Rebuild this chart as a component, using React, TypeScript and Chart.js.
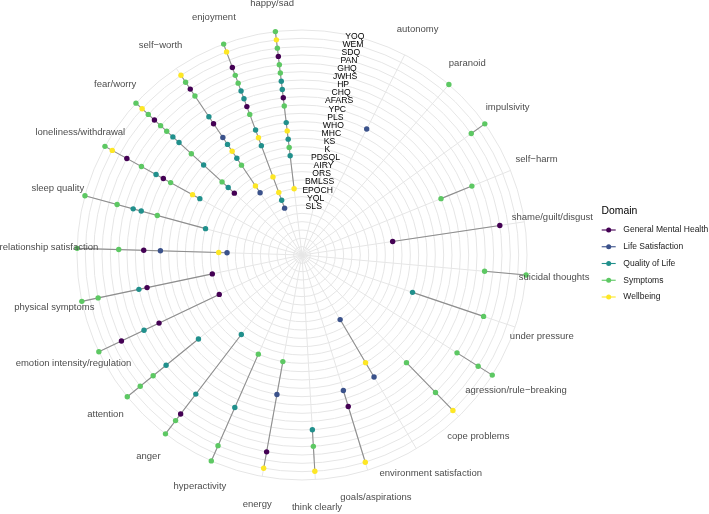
import React, { useEffect, useRef } from 'react';
import { Chart, registerables } from 'chart.js';

Chart.register(...registerables);

// Spokes (clockwise, starting after the questionnaire label column)
const spokes = [
  'autonomy', 'paranoid', 'impulsivity', 'self−harm', 'shame/guilt/disgust',
  'suicidal thoughts', 'under pressure', 'agression/rule−breaking', 'cope problems',
  'environment satisfaction', 'goals/aspirations', 'think clearly', 'energy',
  'hyperactivity', 'anger', 'attention', 'emotion intensity/regulation',
  'physical symptoms', 'relationship satisfaction', 'sleep quality',
  'loneliness/withdrawal', 'fear/worry', 'self−worth', 'enjoyment', 'happy/sad',
];

// Questionnaires, inner ring to outer ring
const questionnaires = [
  'SLS', 'YQL', 'EPOCH', 'BMLSS', 'ORS', 'AIRY', 'PDSQL', 'K', 'KS', 'MHC', 'WHO',
  'PLS', 'YPC', 'AFARS', 'CHQ', 'HP', 'JWHS', 'GHQ', 'PAN', 'SDQ', 'WEM', 'YOQ',
];

const questionnaireDomain = [
  'Life Satisfaction', 'Quality of Life', 'Wellbeing', 'Life Satisfaction', 'Wellbeing',
  'General Mental Health', 'Quality of Life', 'Symptoms', 'Quality of Life', 'Wellbeing',
  'Quality of Life', 'Life Satisfaction', 'Symptoms', 'General Mental Health',
  'Quality of Life', 'Quality of Life', 'Symptoms', 'Symptoms', 'General Mental Health',
  'Symptoms', 'Wellbeing', 'Symptoms',
];

const domains = ['General Mental Health', 'Life Satisfaction', 'Quality of Life', 'Symptoms', 'Wellbeing'];
const domainColors = ['#440154', '#3B528B', '#21908C', '#5DC863', '#FDE725'];

// Which questionnaires cover each spoke (aligned with `spokes`)
const spokeItems: string[][] = [
  ['PLS'],
  ['YOQ'],
  ['YOQ', 'SDQ'],
  ['JWHS', 'YPC'],
  ['PAN', 'AIRY'],
  ['YOQ', 'JWHS'],
  ['GHQ', 'KS'],
  ['YOQ', 'SDQ', 'JWHS'],
  ['WEM', 'GHQ', 'YPC'],
  ['PLS', 'MHC', 'BMLSS'],
  ['WEM', 'AFARS', 'PLS'],
  ['WEM', 'GHQ', 'HP'],
  ['WEM', 'PAN', 'PLS', 'K'],
  ['YOQ', 'SDQ', 'CHQ', 'K'],
  ['YOQ', 'SDQ', 'PAN', 'HP', 'PDSQL'],
  ['YOQ', 'SDQ', 'GHQ', 'HP', 'WHO'],
  ['YOQ', 'PAN', 'HP', 'AFARS', 'AIRY'],
  ['YOQ', 'SDQ', 'CHQ', 'AFARS', 'AIRY'],
  ['YOQ', 'JWHS', 'AFARS', 'PLS', 'ORS', 'BMLSS'],
  ['YOQ', 'GHQ', 'HP', 'CHQ', 'YPC', 'PDSQL'],
  ['YOQ', 'WEM', 'PAN', 'JWHS', 'CHQ', 'AFARS', 'YPC', 'MHC', 'KS'],
  ['YOQ', 'WEM', 'SDQ', 'PAN', 'GHQ', 'JWHS', 'HP', 'CHQ', 'YPC', 'WHO', 'K', 'PDSQL', 'AIRY'],
  ['WEM', 'SDQ', 'PAN', 'GHQ', 'CHQ', 'AFARS', 'PLS', 'WHO', 'MHC', 'KS', 'K', 'ORS', 'BMLSS'],
  ['YOQ', 'WEM', 'PAN', 'GHQ', 'JWHS', 'HP', 'CHQ', 'AFARS', 'YPC', 'WHO', 'MHC', 'KS', 'ORS', 'EPOCH', 'YQL', 'SLS'],
  ['YOQ', 'WEM', 'SDQ', 'PAN', 'GHQ', 'JWHS', 'HP', 'CHQ', 'AFARS', 'YPC', 'WHO', 'MHC', 'KS', 'K', 'PDSQL', 'EPOCH'],
];

// Layout constants
const INNER_EMPTY = 5; // empty rings inside the first questionnaire
const SLOTS = 2 * (spokes.length + 1) + 1; // half-step angular slots
const LABEL_SLOT = 2;
const spokeSlot = (k: number) => 2 * k + 4;
const ringOf = (q: string) => questionnaires.indexOf(q) + 1 + INNER_EMPTY;
const FONT = '"Liberation Sans", Arial, Helvetica, sans-serif';

const slotLabels = Array.from({ length: SLOTS }, (_, i) =>
  i >= 4 && i % 2 === 0 ? spokes[(i - 4) / 2] : ''
);

const overlayPlugin = {
  id: 'overlay',
  beforeDatasetsDraw(chart: any) {
    const r = chart.scales.r;
    const ctx = chart.ctx;
    ctx.save();
    ctx.strokeStyle = '#8e8e8e';
    ctx.lineWidth = 1.1;
    spokeItems.forEach((items, k) => {
      if (items.length < 2) return;
      const rings = items.map(ringOf);
      const a = r.getPointPositionForValue(spokeSlot(k), Math.min(...rings));
      const b = r.getPointPositionForValue(spokeSlot(k), Math.max(...rings));
      ctx.beginPath();
      ctx.moveTo(a.x, a.y);
      ctx.lineTo(b.x, b.y);
      ctx.stroke();
    });
    ctx.restore();
  },
  afterDatasetsDraw(chart: any) {
    const r = chart.scales.r;
    const ctx = chart.ctx;
    ctx.save();
    ctx.textAlign = 'center';
    ctx.textBaseline = 'middle';
    // questionnaire labels
    ctx.fillStyle = '#000000';
    ctx.font = `8.6px ${FONT}`;
    questionnaires.forEach((q) => {
      const p = r.getPointPositionForValue(LABEL_SLOT, ringOf(q));
      ctx.fillText(q, p.x, p.y);
    });
    // spoke labels
    ctx.fillStyle = '#4D4D4D';
    ctx.font = `9.5px ${FONT}`;
    spokes.forEach((s, k) => {
      const p = r.getPointPosition(spokeSlot(k), r.drawingArea * 1.125);
      ctx.fillText(s, p.x, p.y);
    });
    // legend
    ctx.textAlign = 'left';
    ctx.fillStyle = '#000000';
    ctx.font = `10.4px ${FONT}`;
    ctx.fillText('Domain', 601.5, 211.5);
    ctx.font = `8.5px ${FONT}`;
    domains.forEach((d, i) => {
      const y = 230 + i * 16.75;
      ctx.strokeStyle = domainColors[i];
      ctx.lineWidth = 1.1;
      ctx.beginPath();
      ctx.moveTo(601.7, y);
      ctx.lineTo(615.7, y);
      ctx.stroke();
      ctx.fillStyle = domainColors[i];
      ctx.beginPath();
      ctx.arc(608.7, y, 2.5, 0, Math.PI * 2);
      ctx.fill();
      ctx.fillStyle = '#1a1a1a';
      ctx.fillText(d, 623.3, y);
    });
    ctx.restore();
  },
};

export default function App() {
  const canvasRef = useRef<HTMLCanvasElement | null>(null);

  useEffect(() => {
    if (!canvasRef.current) return;
    const datasets = questionnaires.map((q, qi) => {
      const color = domainColors[domains.indexOf(questionnaireDomain[qi])];
      return {
        label: q,
        data: slotLabels.map((_, i) => {
          if (i < 4 || i % 2 !== 0) return null;
          const k = (i - 4) / 2;
          return spokeItems[k].includes(q) ? ringOf(q) : null;
        }),
        showLine: false,
        fill: false,
        borderWidth: 0,
        pointRadius: 2.7,
        pointBorderWidth: 0,
        pointBackgroundColor: color,
        pointBorderColor: color,
      };
    });

    const chart = new Chart(canvasRef.current, {
      type: 'radar',
      data: { labels: slotLabels, datasets: datasets as any },
      options: {
        responsive: false,
        animation: false,
        devicePixelRatio: 1,
        events: [],
        layout: { padding: { left: 77, right: 182, top: 30, bottom: 34 } },
        plugins: { legend: { display: false }, tooltip: { enabled: false } },
        scales: {
          r: {
            min: 0,
            max: questionnaires.length + INNER_EMPTY,
            startAngle: 0,
            ticks: { display: false, stepSize: 1 },
            grid: { circular: true, color: '#e6e6e6', lineWidth: 1 },
            angleLines: {
              display: true,
              color: '#e6e6e6',
              lineWidth: (c: any) => (c.index >= 2 && c.index % 2 === 0 ? 1 : 0),
            },
            pointLabels: { display: false },
          },
        },
      } as any,
      plugins: [overlayPlugin],
    });
    return () => chart.destroy();
  }, []);

  return (
    <div style={{ position: 'fixed', left: 0, top: 0, width: 709, height: 514, background: '#fff' }}>
      <canvas ref={canvasRef} width={709} height={514} style={{ display: 'block' }} />
    </div>
  );
}
